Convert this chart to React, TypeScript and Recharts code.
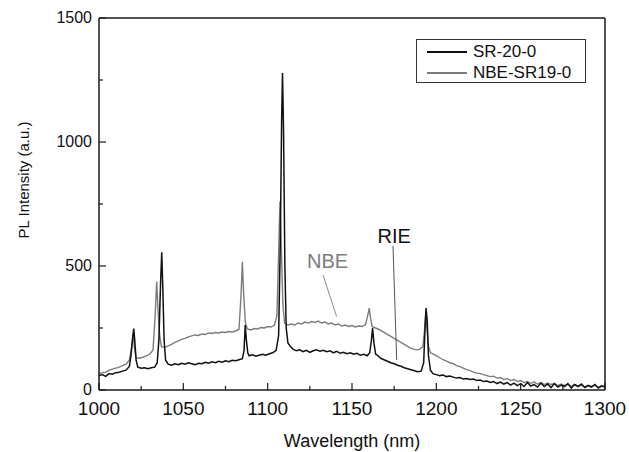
import React from 'react';
import {
  LineChart, Line, XAxis, YAxis, Legend, ReferenceLine, ReferenceDot,
} from 'recharts';

// [wavelength nm, PL intensity a.u.]
const SR_20_0: [number, number][] = [
  [1000, 58], [1002, 62], [1004, 55], [1006, 66], [1008, 64], [1010, 70], [1012, 72], [1014, 76],
  [1016, 80], [1018, 95], [1019, 140], [1020, 215], [1020.6, 248], [1021.2, 200], [1022, 120],
  [1023, 92], [1025, 88], [1027, 90], [1029, 86], [1031, 90], [1033, 92], [1034.5, 110],
  [1035.5, 200], [1036.5, 430], [1037.2, 555], [1037.8, 420], [1038.6, 200], [1039.5, 120],
  [1041, 104], [1043, 100], [1045, 106], [1047, 102], [1049, 108], [1051, 104], [1053, 110],
  [1055, 106], [1057, 102], [1059, 108], [1061, 106], [1063, 112], [1065, 108], [1067, 114],
  [1069, 110], [1071, 116], [1073, 112], [1075, 118], [1077, 114], [1079, 120], [1081, 118],
  [1083, 122], [1085, 126], [1086, 160], [1086.7, 262], [1087.4, 200], [1088.2, 150], [1089, 138],
  [1091, 142], [1093, 136], [1095, 140], [1097, 144], [1099, 140], [1101, 146], [1103, 150],
  [1105, 160], [1106.5, 220], [1107.5, 600], [1108.3, 1100], [1108.8, 1278], [1109.4, 1050],
  [1110.2, 500], [1111, 250], [1112, 190], [1113.5, 175], [1115, 165], [1117, 158], [1119, 162],
  [1121, 155], [1123, 160], [1125, 152], [1127, 158], [1129, 162], [1131, 156], [1133, 160],
  [1135, 154], [1137, 158], [1139, 150], [1141, 156], [1143, 148], [1145, 152], [1147, 146],
  [1149, 150], [1151, 144], [1153, 148], [1155, 140], [1157, 144], [1159, 138], [1160.5, 150],
  [1161.5, 200], [1162.2, 250], [1163, 190], [1164, 145], [1165.5, 138], [1167, 128], [1169, 122],
  [1171, 116], [1173, 110], [1175, 106], [1177, 100], [1179, 96], [1181, 90], [1183, 86],
  [1185, 82], [1187, 78], [1189, 74], [1191, 76], [1192.5, 110], [1193.3, 250], [1193.9, 330],
  [1194.6, 280], [1195.3, 140], [1196.5, 80], [1198, 66], [1200, 62], [1202, 58], [1204, 60],
  [1206, 54], [1208, 56], [1210, 52], [1212, 48], [1214, 50], [1216, 44], [1218, 46], [1220, 42],
  [1222, 44], [1224, 38], [1226, 40], [1228, 34], [1230, 36], [1232, 30], [1234, 34], [1236, 26],
  [1238, 32], [1240, 24], [1242, 30], [1244, 20], [1246, 28], [1248, 18], [1250, 26], [1252, 14],
  [1254, 30], [1256, 16], [1258, 22], [1260, 12], [1262, 28], [1264, 14], [1266, 24], [1268, 10],
  [1270, 26], [1272, 12], [1274, 20], [1276, 14], [1278, 26], [1280, 8], [1282, 22], [1284, 14],
  [1286, 24], [1288, 10], [1290, 18], [1292, 12], [1294, 22], [1296, 8], [1298, 16], [1300, 12],
];

const NBE_SR19_0: [number, number][] = [
  [1000, 66], [1002, 70], [1004, 72], [1006, 80], [1008, 84], [1010, 88], [1012, 92], [1014, 98],
  [1016, 104], [1018, 120], [1019.5, 180], [1020.3, 225], [1021, 170], [1022, 130], [1024, 128],
  [1026, 132], [1028, 138], [1030, 144], [1032, 160], [1033.3, 300], [1034.2, 437], [1035, 320],
  [1036, 220], [1037, 175], [1039, 172], [1041, 178], [1043, 184], [1045, 192], [1047, 198],
  [1049, 204], [1051, 208], [1053, 214], [1055, 218], [1057, 222], [1059, 220], [1061, 226],
  [1063, 224], [1065, 230], [1067, 228], [1069, 232], [1071, 230], [1073, 234], [1075, 232],
  [1077, 236], [1079, 234], [1081, 238], [1083, 245], [1084.2, 380], [1085, 517], [1085.8, 380],
  [1086.8, 270], [1088, 246], [1090, 242], [1092, 248], [1094, 246], [1096, 252], [1098, 250],
  [1100, 256], [1102, 254], [1104, 262], [1105.5, 300], [1106.5, 550], [1107.3, 760], [1108, 600],
  [1109, 350], [1110, 270], [1112, 262], [1114, 266], [1116, 262], [1118, 270], [1120, 266],
  [1122, 274], [1124, 270], [1126, 276], [1128, 272], [1130, 278], [1132, 270], [1134, 274],
  [1136, 266], [1138, 270], [1140, 262], [1142, 266], [1144, 258], [1146, 262], [1148, 256],
  [1150, 260], [1152, 254], [1154, 258], [1156, 256], [1158, 264], [1159.3, 300], [1160.2, 330],
  [1161, 290], [1162, 255], [1164, 250], [1166, 244], [1168, 236], [1170, 228], [1172, 220],
  [1174, 212], [1176, 204], [1178, 196], [1180, 188], [1182, 180], [1184, 172], [1186, 166],
  [1188, 162], [1190, 164], [1192, 175], [1193, 240], [1193.6, 300], [1194.3, 260], [1195.2, 180],
  [1196.5, 150], [1198, 146], [1200, 138], [1202, 130], [1204, 122], [1206, 116], [1208, 110],
  [1210, 106], [1212, 98], [1214, 94], [1216, 88], [1218, 82], [1220, 78], [1222, 72], [1224, 68],
  [1226, 66], [1228, 62], [1230, 58], [1232, 54], [1234, 56], [1236, 48], [1238, 50], [1240, 42],
  [1242, 46], [1244, 38], [1246, 42], [1248, 34], [1250, 38], [1252, 30], [1254, 34], [1256, 27],
  [1258, 32], [1260, 24], [1262, 30], [1264, 22], [1266, 28], [1268, 22], [1270, 26], [1272, 18],
  [1274, 24], [1276, 18], [1278, 22], [1280, 15], [1282, 22], [1284, 16], [1286, 20], [1288, 13],
  [1290, 19], [1292, 14], [1294, 20], [1296, 11], [1298, 17], [1300, 14],
];

const xTicks = [1000, 1025, 1050, 1075, 1100, 1125, 1150, 1175, 1200, 1225, 1250, 1275, 1300];
const yTicks = [0, 250, 500, 750, 1000, 1250, 1500];

const srData = SR_20_0.map(([x, y]) => ({ x, y }));
const nbeData = NBE_SR19_0.map(([x, y]) => ({ x, y }));

const FONT = '"Liberation Sans", Arial, Helvetica, sans-serif';
const AXIS = '#1a1a1a';
const BLACK = '#111111';
const GRAY = '#7c7c7c';

const isMajorX = (v: number) => v % 50 === 0;
const isMajorY = (v: number) => v % 500 === 0;

// ticks point into the plot; tickSize/tickMargin are 0 so x/y sit on the frame edge
const BottomTick = ({ x, y, payload }: any) => {
  const major = isMajorX(payload.value);
  return (
    <g>
      <line x1={x} y1={y} x2={x} y2={y - (major ? 7 : 4)} stroke={AXIS} strokeWidth={1.2} />
      {major && (
        <text x={x} y={y + 25} textAnchor="middle" fontSize={19} fill="#111" fontFamily={FONT}>
          {payload.value}
        </text>
      )}
    </g>
  );
};

const TopTick = ({ x, y, payload }: any) => (
  <line x1={x} y1={y} x2={x} y2={y + (isMajorX(payload.value) ? 7 : 4)} stroke={AXIS} strokeWidth={1.2} />
);

const LeftTick = ({ x, y, payload }: any) => {
  const major = isMajorY(payload.value);
  return (
    <g>
      <line x1={x} y1={y} x2={x + (major ? 7 : 4)} y2={y} stroke={AXIS} strokeWidth={1.2} />
      {major && (
        <text x={x - 7} y={y + 5} textAnchor="end" fontSize={16} fill="#111" fontFamily={FONT}>
          {payload.value}
        </text>
      )}
    </g>
  );
};

const RightTick = ({ x, y, payload }: any) => (
  <line x1={x} y1={y} x2={x - (isMajorY(payload.value) ? 7 : 4)} y2={y} stroke={AXIS} strokeWidth={1.2} />
);

const legendItems = [
  { name: 'SR-20-0', color: BLACK },
  { name: 'NBE-SR19-0', color: GRAY },
];

const LegendBox = () => (
  <div
    style={{
      width: 170,
      height: 44,
      boxSizing: 'border-box',
      border: '1px solid #333',
      background: '#fff',
      fontFamily: FONT,
      fontSize: 17,
      color: '#111',
      paddingTop: 1,
    }}
  >
    {legendItems.map((item) => (
      <div key={item.name} style={{ display: 'flex', alignItems: 'center', height: 21 }}>
        <div style={{ width: 40, marginLeft: 10, borderTop: `2px solid ${item.color}` }} />
        <span style={{ marginLeft: 6, lineHeight: '21px' }}>{item.name}</span>
      </div>
    ))}
  </div>
);

const axisLine = { stroke: AXIS, strokeWidth: 1.5 };

export default function App() {
  return (
    <div style={{ position: 'absolute', left: 0, top: 0, width: 629, height: 452, background: '#fff' }}>
      <LineChart width={629} height={452} margin={{ top: 17, right: 23, bottom: 61, left: 98 }}>
        <XAxis
          dataKey="x"
          type="number"
          domain={[1000, 1300]}
          ticks={xTicks}
          height={1}
          tickSize={0}
          tickMargin={0}
          tickLine={false}
          tick={<BottomTick />}
          axisLine={axisLine}
          interval={0}
        />
        <XAxis
          xAxisId="top"
          orientation="top"
          dataKey="x"
          type="number"
          domain={[1000, 1300]}
          ticks={xTicks}
          height={1}
          tickSize={0}
          tickMargin={0}
          tickLine={false}
          tick={<TopTick />}
          axisLine={axisLine}
          interval={0}
        />
        <YAxis
          type="number"
          domain={[0, 1500]}
          ticks={yTicks}
          width={1}
          tickSize={0}
          tickMargin={0}
          tickLine={false}
          tick={<LeftTick />}
          axisLine={axisLine}
          interval={0}
        />
        <YAxis
          yAxisId="right"
          orientation="right"
          type="number"
          domain={[0, 1500]}
          ticks={yTicks}
          width={1}
          tickSize={0}
          tickMargin={0}
          tickLine={false}
          tick={<RightTick />}
          axisLine={axisLine}
          interval={0}
        />

        <Line
          data={nbeData}
          dataKey="y"
          type="linear"
          stroke={GRAY}
          strokeWidth={1.4}
          dot={false}
          isAnimationActive={false}
        />
        <Line
          data={srData}
          dataKey="y"
          type="linear"
          stroke={BLACK}
          strokeWidth={1.5}
          dot={false}
          isAnimationActive={false}
        />

        {/* leader lines for the two annotations */}
        <ReferenceLine
          segment={[{ x: 1132.8, y: 464 }, { x: 1140.9, y: 296 }]}
          stroke="#8a8a8a"
          strokeWidth={1}
        />
        <ReferenceLine
          segment={[{ x: 1174.3, y: 581 }, { x: 1176.5, y: 121 }]}
          stroke="#555"
          strokeWidth={1}
        />
        <ReferenceDot
          x={1135.5}
          y={520}
          r={1}
          fill="none"
          stroke="none"
          label={{ value: 'NBE', position: 'center', fill: GRAY, fontSize: 20, fontFamily: FONT }}
        />
        <ReferenceDot
          x={1175}
          y={622}
          r={1}
          fill="none"
          stroke="none"
          label={{ value: 'RIE', position: 'center', fill: '#111', fontSize: 20, fontFamily: FONT }}
        />

        <Legend
          layout="vertical"
          align="center"
          verticalAlign="middle"
          content={<LegendBox />}
          wrapperStyle={{ top: 39, left: 416, width: 170, height: 44 }}
        />
      </LineChart>

      <div
        style={{
          position: 'absolute',
          left: 352,
          top: 431,
          transform: 'translateX(-50%)',
          whiteSpace: 'nowrap',
          fontFamily: FONT,
          fontSize: 18,
          color: '#111',
          lineHeight: '20px',
        }}
      >
        Wavelength (nm)
      </div>
      <div
        style={{
          position: 'absolute',
          left: 24,
          top: 180,
          transform: 'translate(-50%, -50%) rotate(-90deg)',
          whiteSpace: 'nowrap',
          fontFamily: FONT,
          fontSize: 15,
          color: '#111',
          lineHeight: '18px',
        }}
      >
        PL Intensity (a.u.)
      </div>
    </div>
  );
}
